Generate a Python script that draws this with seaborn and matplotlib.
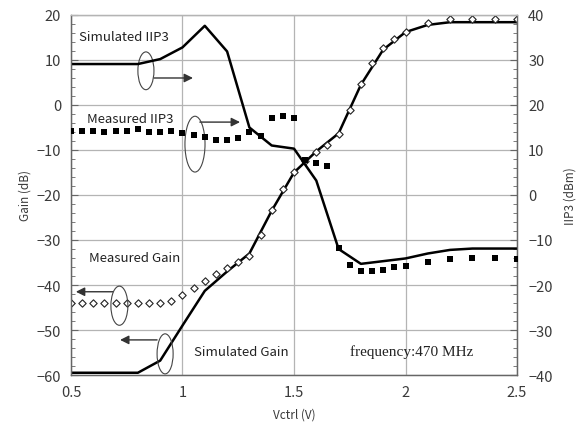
import numpy as np
import pandas as pd
import matplotlib
matplotlib.use("Agg")
import matplotlib.pyplot as plt
import seaborn as sns
from matplotlib.patches import Ellipse
from matplotlib.ticker import MultipleLocator

# ---- data ----
# measured gain (open diamonds), left axis, dB
mg_v = [0.5, 0.55, 0.6, 0.65, 0.7, 0.75, 0.8, 0.85, 0.9, 0.95, 1.0, 1.05, 1.1, 1.15, 1.2,
        1.25, 1.3, 1.35, 1.4, 1.45, 1.5, 1.55, 1.6, 1.65, 1.7, 1.75, 1.8, 1.85, 1.9, 1.95,
        2.0, 2.1, 2.2, 2.3, 2.4, 2.5]
mg_db = [-44, -44, -44, -44, -44, -44, -44, -44, -44, -43.5, -42.3, -40.7, -39, -37.6, -36.2,
         -35, -33.5, -29, -23.4, -18.6, -15, -12.4, -10.4, -9, -6.4, -1.1, 4.7, 9.3, 12.6, 14.7,
         16.3, 18.2, 19.1, 19.1, 19.1, 19.1]

# simulated gain (line), left axis, dB
sg_v = [0.5, 0.6, 0.7, 0.8, 0.9, 1.0, 1.1, 1.2, 1.3, 1.4, 1.5, 1.6, 1.7, 1.8, 1.9, 2.0,
        2.1, 2.2, 2.3, 2.4, 2.5]
sg_db = [-59.5, -59.5, -59.5, -59.5, -56.8, -49, -41.3, -37, -33, -23.5, -15, -10.3, -6.3,
         4.5, 12.3, 16.2, 17.8, 18.4, 18.4, 18.4, 18.4]

# simulated IIP3 (line), right axis, dBm
si_v = [0.5, 0.6, 0.7, 0.8, 0.9, 1.0, 1.1, 1.2, 1.3, 1.4, 1.5, 1.6, 1.7, 1.8, 1.9, 2.0,
        2.1, 2.2, 2.3, 2.4, 2.5]
si_dbm = [29.1, 29.1, 29.1, 29.1, 30.2, 32.8, 37.6, 31.9, 15, 11, 10.3, 3.2, -12, -15.3,
          -14.7, -14.1, -13, -12.2, -11.9, -11.9, -11.9]

# measured IIP3 (filled squares), right axis, dBm
mi_v = [0.5, 0.55, 0.6, 0.65, 0.7, 0.75, 0.8, 0.85, 0.9, 0.95, 1.0, 1.05, 1.1, 1.15, 1.2,
        1.25, 1.3, 1.35, 1.4, 1.45, 1.5, 1.55, 1.6, 1.65, 1.7, 1.75, 1.8, 1.85, 1.9, 1.95,
        2.0, 2.1, 2.2, 2.3, 2.4, 2.5]
mi_dbm = [14.3, 14.3, 14.3, 14.1, 14.3, 14.3, 14.7, 14.1, 14.1, 14.3, 13.8, 13.3, 12.8, 12.2, 12.2,
          12.6, 14.1, 13.2, 17, 17.5, 17, 7.8, 7.0, 6.4, -11.8, -15.6, -16.8, -16.8, -16.6, -16.1,
          -15.8, -14.8, -14.2, -14, -14, -14.2]

gain_df = pd.DataFrame({"v": sg_v, "g": sg_db})
mgain_df = pd.DataFrame({"v": mg_v, "g": mg_db})
iip3_df = pd.DataFrame({"v": si_v, "p": si_dbm})
miip3_df = pd.DataFrame({"v": mi_v, "p": mi_dbm})

sns.set_style("white")
plt.rcParams['font.family'] = ['Noto Sans CJK JP', 'DejaVu Sans']

fig = plt.figure(figsize=(5.8, 4.31), dpi=100)
ax = fig.add_axes([0.1224, 0.1276, 0.7690, 0.8353])
ax2 = ax.twinx()

# left axis: gain
sns.lineplot(data=gain_df, x="v", y="g", ax=ax, color="black", lw=1.8)
sns.scatterplot(data=mgain_df, x="v", y="g", ax=ax, marker="D", s=14,
                facecolor="white", edgecolor="#222222", linewidth=0.8, zorder=4)

# right axis: IIP3
sns.lineplot(data=iip3_df, x="v", y="p", ax=ax2, color="black", lw=1.8)
sns.scatterplot(data=miip3_df, x="v", y="p", ax=ax2, marker="s", s=20,
                color="black", edgecolor="black", linewidth=0, zorder=4)

ax.set_xlim(0.5, 2.5)
ax.set_ylim(-60, 20)
ax2.set_ylim(-40, 40)

ax.xaxis.set_major_locator(MultipleLocator(0.5))
ax.xaxis.set_minor_locator(MultipleLocator(0.1))
ax.yaxis.set_major_locator(MultipleLocator(10))
ax.yaxis.set_minor_locator(MultipleLocator(2))
ax2.yaxis.set_major_locator(MultipleLocator(10))
ax2.yaxis.set_minor_locator(MultipleLocator(2))

ax.set_xticks([0.5, 1, 1.5, 2, 2.5])
ax.set_xticklabels(["0.5", "1", "1.5", "2", "2.5"])
ax.grid(True, which="major", color="#b4b4b4", lw=0.9)
ax.set_axisbelow(True)

tc = "#3a3a3a"
ax.tick_params(axis="both", which="major", direction="in", length=5, color="#666666",
               labelsize=10.5, labelcolor=tc, pad=7)
ax.tick_params(axis="both", which="minor", direction="in", length=3, color="#666666")
ax2.tick_params(axis="y", which="major", direction="in", length=5, color="#666666",
                labelsize=10.5, labelcolor=tc, pad=8)
ax2.tick_params(axis="y", which="minor", direction="in", length=3, color="#666666")

for a in (ax, ax2):
    for sp in a.spines.values():
        sp.set_color("#666666")
        sp.set_linewidth(0.9)
    a.spines["top"].set_color("#b4b4b4")

ax.set_xlabel("Vctrl (V)", fontsize=8.5, color=tc, labelpad=6)
ax.set_ylabel("Gain (dB)", fontsize=8.5, color=tc, labelpad=4)
ax2.set_ylabel("IIP3 (dBm)", fontsize=8.5, color=tc, labelpad=8)

# annotations
tk = dict(fontsize=9.5, color="#222222", va="center", ha="left")
ax.text(0.536, 15.3, "Simulated IIP3", **tk)
ax.text(0.572, -3.1, "Measured IIP3", **tk)
ax.text(0.581, -33.8, "Measured Gain", **tk)
ax.text(1.052, -54.8, "Simulated Gain", **tk)
ax.text(1.751, -54.6, "frequency:470 MHz", fontsize=11, color="#222222", va="center",
        ha="left", family="Liberation Serif")

for cx, cy, w, h in [(0.836, 7.6, 0.072, 8.4), (1.056, -8.7, 0.09, 12.4),
                     (0.717, -44.6, 0.076, 8.7), (0.922, -55.3, 0.072, 8.9)]:
    ax.add_patch(Ellipse((cx, cy), w, h, fill=False, ec="#444444", lw=0.8, zorder=5))

ap = dict(arrowstyle="-|>", color="#333333", lw=1.0, mutation_scale=13, shrinkA=0, shrinkB=0)
ax.annotate("", xy=(1.047, 6.0), xytext=(0.872, 6.0), arrowprops=ap)
ax.annotate("", xy=(1.258, -3.8), xytext=(1.078, -3.8), arrowprops=ap)
ax.annotate("", xy=(0.522, -41.5), xytext=(0.688, -41.5), arrowprops=ap)
ax.annotate("", xy=(0.72, -52.2), xytext=(0.886, -52.2), arrowprops=ap)

fig.savefig("out.png", dpi=100)
